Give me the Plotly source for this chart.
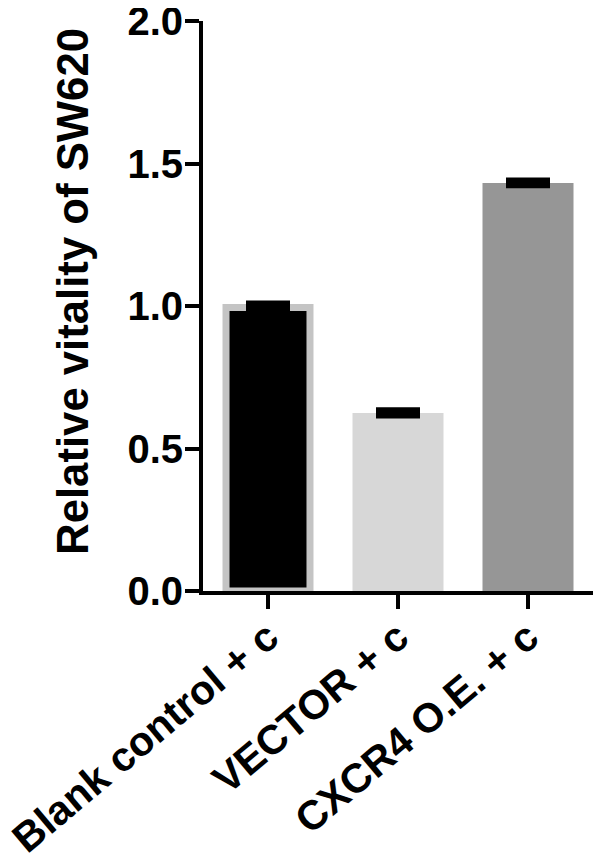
import plotly.graph_objects as go

groups = ["Blank control + c", "VECTOR + c", "CXCR4 O.E. + c"]
vitality = [0.995, 0.625, 1.432]
sd = [0.01, 0.006, 0.005]
bar_colors = ["#000000", "#d7d7d7", "#969696"]
y_ticks = [0.0, 0.5, 1.0, 1.5, 2.0]
y_ticklabels = ["0.0", "0.5", "1.0", "1.5", "2.0"]

font_main = "Liberation Sans, Arial, sans-serif"

fig = go.Figure()
fig.add_trace(go.Bar(
    x=groups, y=vitality,
    width=[0.646, 0.7, 0.7],
    marker=dict(color=bar_colors,
                line=dict(color=["#c4c4c4", "#d7d7d7", "#969696"], width=[7, 0, 0])),
    error_y=dict(type="data", array=sd, visible=True, color="black",
                 thickness=8, width=22),
    showlegend=False,
))

# page body has an 8px margin, so the figure is a bit smaller and shifted
fig.update_layout(
    width=594, height=852,
    margin=dict(l=195, r=9, t=13, b=269),
    plot_bgcolor="white", paper_bgcolor="white",
    font=dict(family=font_main, color="black"),
    bargap=0.3,
)
fig.update_xaxes(
    range=[-0.5, 2.5], automargin=False,
    showline=True, linecolor="black", linewidth=4,
    ticks="outside", ticklen=14, tickwidth=4, tickcolor="black",
    tickangle=-40, ticklabelstandoff=-12, ticklabeloverflow="allow",
    tickfont=dict(size=41, family=font_main, weight="bold"),
    showgrid=False, zeroline=False,
)
fig.update_yaxes(
    range=[0, 2.0], automargin=False,
    tickvals=y_ticks, ticktext=y_ticklabels,
    showline=True, linecolor="black", linewidth=4,
    ticks="outside", ticklen=14, tickwidth=4, tickcolor="black",
    ticklabelstandoff=-6, ticklabeloverflow="allow",
    tickfont=dict(size=40, family=font_main, weight="bold"),
    showgrid=False, zeroline=False,
)
fig.add_annotation(
    text="Relative vitality of SW620", textangle=-90,
    xref="paper", yref="paper", x=-0.333, y=0.525,
    xanchor="center", yanchor="middle", showarrow=False,
    font=dict(size=43.7, family=font_main, weight="bold"),
)

fig.write_html("out.html")
